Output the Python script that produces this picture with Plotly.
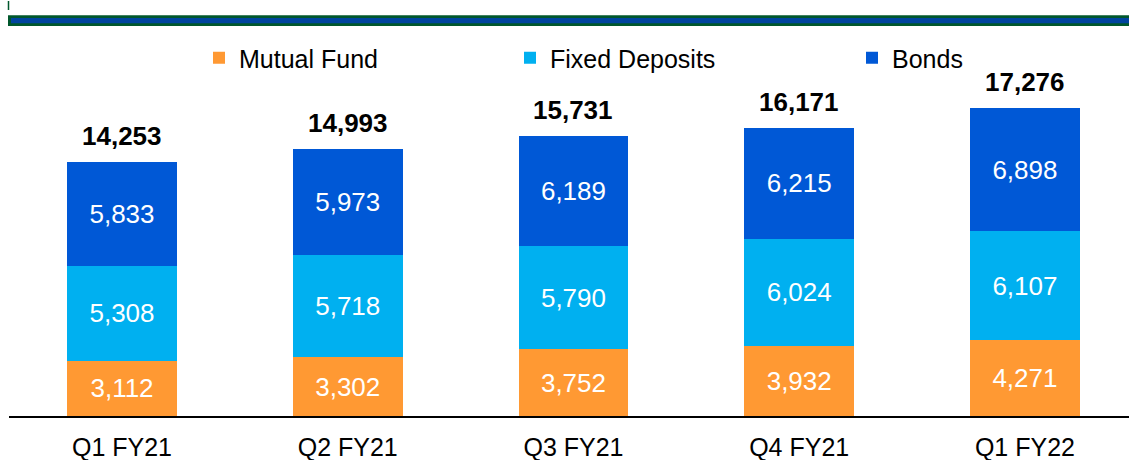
import plotly.graph_objects as go

quarters = ["Q1 FY21", "Q2 FY21", "Q3 FY21", "Q4 FY21", "Q1 FY22"]
mutual_fund = [3112, 3302, 3752, 3932, 4271]
fixed_deposits = [5308, 5718, 5790, 6024, 6107]
bonds = [5833, 5973, 6189, 6215, 6898]
totals = [14253, 14993, 15731, 16171, 17276]

FONT = "Liberation Sans, Arial, sans-serif"
ORANGE = "#FF9933"
CYAN = "#00B0F0"
BLUE = "#0058D6"

W, H = 1129, 460
ML, MR, MT, MB = 9, 0, 60, 44
PLOT_W = W - ML - MR
PLOT_H = H - MT - MB


def px_x(p):
    return (p - ML) / PLOT_W


def px_y(p):
    return (H - MB - p) / PLOT_H


fig = go.Figure()

series = [
    ("Mutual Fund", mutual_fund, ORANGE, "legend"),
    ("Fixed Deposits", fixed_deposits, CYAN, "legend2"),
    ("Bonds", bonds, BLUE, "legend3"),
]
for name, vals, color, leg in series:
    fig.add_trace(go.Bar(
        x=quarters, y=vals, name=name, legend=leg,
        marker=dict(color=color, line=dict(width=0)),
        text=[f"{v:,}" for v in vals],
        textposition="inside", insidetextanchor="middle", textangle=0,
        textfont=dict(family=FONT, size=26, color="white"),
        hoverinfo="skip",
    ))

for q, t in zip(quarters, totals):
    fig.add_annotation(
        x=q, y=t, text=f"<b>{t:,}</b>", showarrow=False,
        yanchor="middle", yshift=26,
        font=dict(family=FONT, size=26, color="black"),
    )

legend_y = px_y(58)
legend_common = dict(orientation="h", yanchor="middle", y=legend_y, xanchor="left",
                     bgcolor="rgba(0,0,0,0)", font=dict(family=FONT, size=25, color="black"))

# Header band: green frame with blue stripe, plus a short green tick
shapes = [
    dict(type="rect", xref="paper", yref="paper", x0=px_x(8), x1=px_x(1135),
         y0=px_y(26), y1=px_y(15.3), fillcolor="#00572C", line=dict(width=0)),
    dict(type="rect", xref="paper", yref="paper", x0=px_x(11), x1=px_x(1135),
         y0=px_y(23.3), y1=px_y(18), fillcolor="#00449E", line=dict(width=0)),
    dict(type="line", xref="paper", yref="paper", x0=px_x(8.5), x1=px_x(8.5),
         y0=px_y(10), y1=px_y(1), line=dict(color="#00572C", width=1.5)),
]

fig.update_layout(
    width=W, height=H,
    margin=dict(l=ML, r=MR, t=MT, b=MB),
    barmode="stack", bargap=0.513,
    plot_bgcolor="white", paper_bgcolor="white",
    font=dict(family=FONT, size=24, color="black"),
    showlegend=True,
    legend=dict(x=px_x(199), **legend_common),
    legend2=dict(x=px_x(510), **legend_common),
    legend3=dict(x=px_x(852), **legend_common),
    shapes=shapes,
    uniformtext=dict(mode=False),
    xaxis=dict(
        type="category", range=[-0.5006, 4.461],
        showline=True, linecolor="black", linewidth=1.5,
        ticks="", showgrid=False, zeroline=False,
        tickfont=dict(family=FONT, size=25, color="black"),
        ticklabelstandoff=8,
    ),
    yaxis=dict(range=[0, 20000], visible=False, showgrid=False, zeroline=False),
)

fig.write_html("out.html")
